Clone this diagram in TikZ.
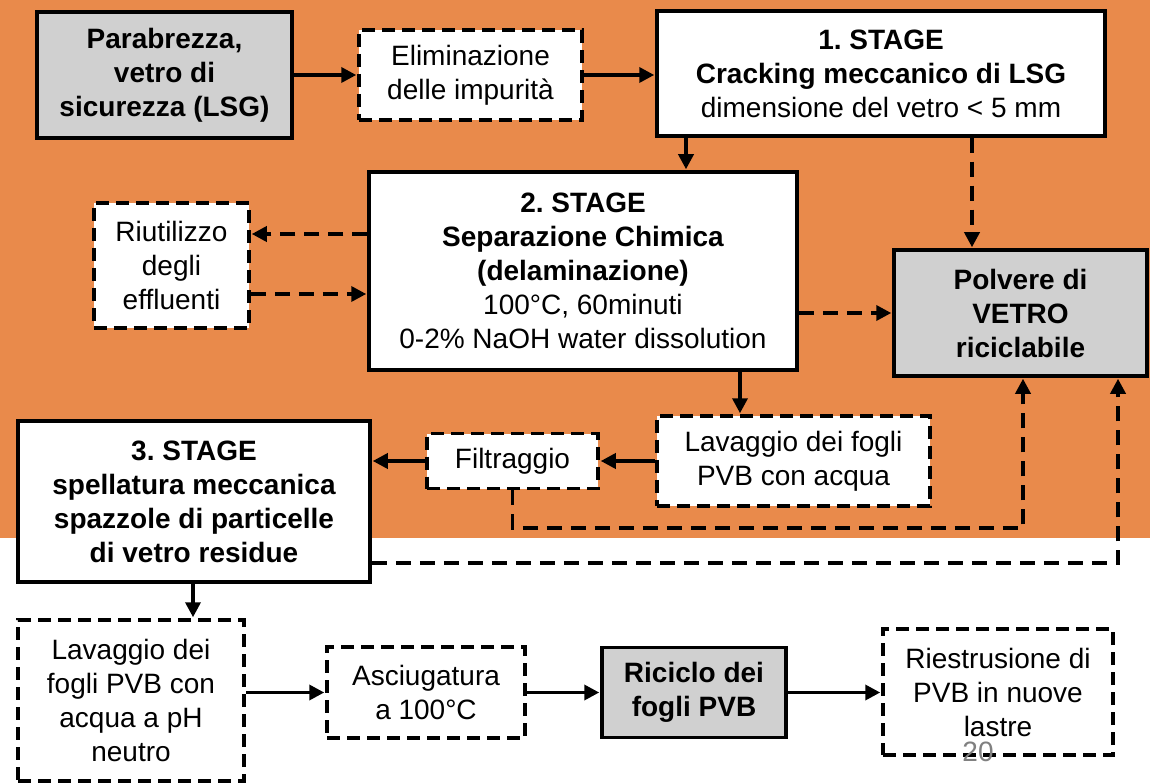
\documentclass[tikz,border=0pt]{standalone}
\usepackage{fontspec}
\setmainfont{Liberation Sans}
\usetikzlibrary{arrows.meta}
\definecolor{slidebg}{HTML}{E98A4B}
\definecolor{boxgrey}{HTML}{D0D0D0}
\definecolor{pagenum}{HTML}{808080}
\begin{document}
\frenchspacing
\begin{tikzpicture}[x=1pt,y=-1pt,
  base/.style={draw=black, line width=3.5pt, inner sep=0pt, align=center,
    font=\fontsize{28}{34}\selectfont, text=black},
  solidbox/.style={base, fill=white},
  greybox/.style={base, fill=boxgrey},
  dashbox/.style={base, fill=white, dash pattern=on 13pt off 7pt},
  arr/.style={line width=3.5pt, shorten >=1pt, -{Triangle[length=15pt,width=15pt]}},
  darr/.style={arr, dash pattern=on 15pt off 9pt},
]
% slide background
\useasboundingbox (0,0) rectangle (1150,783);
\fill[white] (0,0) rectangle (1150,783);
\fill[slidebg] (0,0) rectangle (1150,538);

% process boxes
\node[greybox, minimum width=255pt, minimum height=126pt] (parab) at (164.5,75)
  {\bfseries Parabrezza,\\ \bfseries vetro di\\ \bfseries sicurezza (LSG)};
\node[dashbox, minimum width=223pt, minimum height=90pt] (elim) at (470.5,75)
  {Eliminazione\\ delle impurità};
\node[solidbox, minimum width=448pt, minimum height=125pt] (s1) at (881,73.5)
  {{\bfseries 1. STAGE}\\ {\bfseries Cracking meccanico di LSG}\\ dimensione del vetro < 5 mm};
\node[solidbox, minimum width=428pt, minimum height=198pt] (s2) at (583,271)
  {{\bfseries 2. STAGE}\\ {\bfseries Separazione Chimica}\\ {\bfseries (delaminazione)}\\
   100°C, 60minuti\\ 0-2\% NaOH water dissolution};
\node[dashbox, minimum width=155pt, minimum height=125pt] (riut) at (171.5,265.5)
  {Riutilizzo\\ degli\\ effluenti};
\node[greybox, minimum width=253pt, minimum height=126pt] (polv) at (1020.5,313)
  {\bfseries Polvere di\\ \bfseries VETRO\\ \bfseries riciclabile};
\node[solidbox, minimum width=352pt, minimum height=161pt] (s3) at (194,501.5)
  {\bfseries 3. STAGE\\ \bfseries spellatura meccanica\\ \bfseries spazzole di particelle\\ \bfseries di vetro residue};
\node[dashbox, minimum width=171pt, minimum height=55pt] (filt) at (512.5,461)
  {Filtraggio};
\node[dashbox, minimum width=273pt, minimum height=90pt] (lav1) at (793.5,461)
  {Lavaggio dei fogli\\ PVB con acqua};
\node[dashbox, minimum width=226pt, minimum height=161pt] (lav2) at (131,700.5)
  {Lavaggio dei\\ fogli PVB con\\ acqua a pH\\ neutro};
\node[dashbox, minimum width=198pt, minimum height=91pt] (asci) at (426,692.5)
  {Asciugatura\\ a 100°C};
\node[greybox, minimum width=184pt, minimum height=90pt] (ric) at (694,692.5)
  {\bfseries Riciclo dei\\ \bfseries fogli PVB};
\node[dashbox, minimum width=230pt, minimum height=126pt] (riest) at (998,692)
  {Riestrusione di\\ PVB in nuove\\ lastre};

% connectors
\draw[arr] (parab.east) -- (elim.west);
\draw[arr] (elim.east) -- (elim.east -| s1.west);
\draw[arr] (s1.south -| 686,0) -- (s2.north -| 686,0);
\draw[darr] (s1.south -| 972,0) -- (polv.north -| 972,0);
\draw[darr] (s2.west |- 0,234) -- (riut.east |- 0,234);
\draw[darr] (riut.east |- 0,294) -- (s2.west |- 0,294);
\draw[darr] (s2.east |- polv.west) -- (polv.west);
\draw[arr] (s2.south -| 740,0) -- (lav1.north -| 740,0);
\draw[arr] (lav1.west |- filt.east) -- (filt.east);
\draw[arr] (filt.west) -- (filt.west -| s3.east);
\coordinate (ret1) at (1023,528);
\draw[darr] (filt.south) |- (ret1) -- (polv.south -| ret1);
\coordinate (ret2) at (1118,563);
\draw[darr] (s3.east |- ret2) -- (ret2) -- (polv.south -| ret2);
\draw[arr] (s3.south -| 193,0) -- (lav2.north -| 193,0);
\draw[arr] (lav2.east |- asci.west) -- (asci.west);
\draw[arr] (asci.east) -- (ric.west);
\draw[arr] (ric.east) -- (ric.east -| riest.west);

% page number
\node[text=pagenum, font=\fontsize{28}{34}\selectfont, inner sep=0pt] (pnum) at (978,752) {20};
\end{tikzpicture}
\end{document}
